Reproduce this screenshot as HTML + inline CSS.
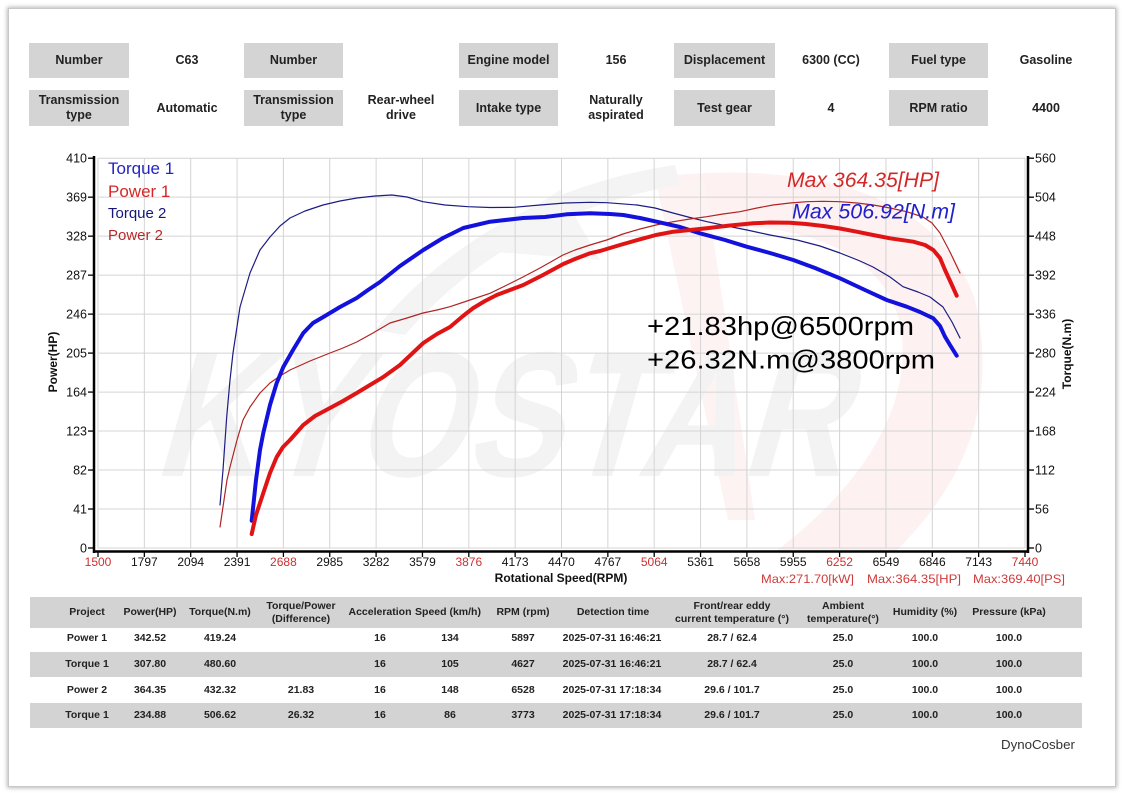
<!DOCTYPE html>
<html>
<head>
<meta charset="utf-8">
<style>
  html,body{margin:0;padding:0;background:#fff;}
  body{width:1122px;height:793px;position:relative;overflow:hidden;font-family:"Liberation Sans",Arial,sans-serif;}
  .card{position:absolute;left:8px;top:8px;width:1106px;height:777px;background:#fff;border:1px solid #c8c8c8;box-shadow:0 0 4px 1px rgba(0,0,0,0.28);}
  .box{position:absolute;background:#d4d4d4;color:#222;font-weight:bold;font-size:12.5px;display:flex;align-items:center;justify-content:center;text-align:center;line-height:15px;}
  .val{position:absolute;color:#222;font-weight:bold;font-size:12.5px;display:flex;align-items:center;justify-content:center;text-align:center;line-height:15px;width:110px;}
  .band{position:absolute;left:30px;width:1052px;background:#d3d3d3;}
  .tc{position:absolute;width:130px;margin-left:-65px;text-align:center;font-weight:bold;font-size:10.5px;color:#222;line-height:13px;}
  svg{position:absolute;left:0;top:0;}
</style>
</head>
<body>
<div class="card"></div>

<!-- header info -->
<div class="box" style="left:29px;top:43px;width:100px;height:35px;">Number</div>
<div class="val" style="left:132px;top:43px;height:35px;">C63</div>
<div class="box" style="left:244px;top:43px;width:99px;height:35px;">Number</div>
<div class="val" style="left:346px;top:43px;height:35px;"></div>
<div class="box" style="left:459px;top:43px;width:99px;height:35px;">Engine model</div>
<div class="val" style="left:561px;top:43px;height:35px;">156</div>
<div class="box" style="left:674px;top:43px;width:101px;height:35px;">Displacement</div>
<div class="val" style="left:776px;top:43px;height:35px;">6300 (CC)</div>
<div class="box" style="left:889px;top:43px;width:99px;height:35px;">Fuel type</div>
<div class="val" style="left:991px;top:43px;height:35px;">Gasoline</div>

<div class="box" style="left:29px;top:90px;width:100px;height:36px;">Transmission<br>type</div>
<div class="val" style="left:132px;top:90px;height:36px;">Automatic</div>
<div class="box" style="left:244px;top:90px;width:99px;height:36px;">Transmission<br>type</div>
<div class="val" style="left:346px;top:90px;height:36px;">Rear-wheel<br>drive</div>
<div class="box" style="left:459px;top:90px;width:99px;height:36px;">Intake type</div>
<div class="val" style="left:561px;top:90px;height:36px;">Naturally<br>aspirated</div>
<div class="box" style="left:674px;top:90px;width:101px;height:36px;">Test gear</div>
<div class="val" style="left:776px;top:90px;height:36px;">4</div>
<div class="box" style="left:889px;top:90px;width:99px;height:36px;">RPM ratio</div>
<div class="val" style="left:991px;top:90px;height:36px;">4400</div>

<!-- bottom table bands -->
<div class="band" style="top:597px;height:31px;"></div>
<div class="band" style="top:652px;height:25px;"></div>
<div class="band" style="top:703px;height:25px;"></div>

<!-- header row -->
<div class="tc" style="left:87px;top:606px;">Project</div>
<div class="tc" style="left:150px;top:606px;">Power(HP)</div>
<div class="tc" style="left:220px;top:606px;">Torque(N.m)</div>
<div class="tc" style="left:301px;top:600px;">Torque/Power<br>(Difference)</div>
<div class="tc" style="left:380px;top:606px;">Acceleration</div>
<div class="tc" style="left:448px;top:606px;">Speed (km/h)</div>
<div class="tc" style="left:523px;top:606px;">RPM (rpm)</div>
<div class="tc" style="left:613px;top:606px;">Detection time</div>
<div class="tc" style="left:732px;top:600px;">Front/rear eddy<br>current temperature (°)</div>
<div class="tc" style="left:843px;top:600px;">Ambient<br>temperature(°)</div>
<div class="tc" style="left:925px;top:606px;">Humidity (%)</div>
<div class="tc" style="left:1009px;top:606px;">Pressure (kPa)</div>

<!-- row 1 -->
<div class="tc" style="left:87px;top:632px;">Power 1</div>
<div class="tc" style="left:150px;top:632px;">342.52</div>
<div class="tc" style="left:220px;top:632px;">419.24</div>
<div class="tc" style="left:380px;top:632px;">16</div>
<div class="tc" style="left:450px;top:632px;">134</div>
<div class="tc" style="left:523px;top:632px;">5897</div>
<div class="tc" style="left:612px;top:632px;">2025-07-31 16:46:21</div>
<div class="tc" style="left:732px;top:632px;">28.7 / 62.4</div>
<div class="tc" style="left:843px;top:632px;">25.0</div>
<div class="tc" style="left:925px;top:632px;">100.0</div>
<div class="tc" style="left:1009px;top:632px;">100.0</div>

<!-- row 2 -->
<div class="tc" style="left:87px;top:658px;">Torque 1</div>
<div class="tc" style="left:150px;top:658px;">307.80</div>
<div class="tc" style="left:220px;top:658px;">480.60</div>
<div class="tc" style="left:380px;top:658px;">16</div>
<div class="tc" style="left:450px;top:658px;">105</div>
<div class="tc" style="left:523px;top:658px;">4627</div>
<div class="tc" style="left:612px;top:658px;">2025-07-31 16:46:21</div>
<div class="tc" style="left:732px;top:658px;">28.7 / 62.4</div>
<div class="tc" style="left:843px;top:658px;">25.0</div>
<div class="tc" style="left:925px;top:658px;">100.0</div>
<div class="tc" style="left:1009px;top:658px;">100.0</div>

<!-- row 3 -->
<div class="tc" style="left:87px;top:684px;">Power 2</div>
<div class="tc" style="left:150px;top:684px;">364.35</div>
<div class="tc" style="left:220px;top:684px;">432.32</div>
<div class="tc" style="left:301px;top:684px;">21.83</div>
<div class="tc" style="left:380px;top:684px;">16</div>
<div class="tc" style="left:450px;top:684px;">148</div>
<div class="tc" style="left:523px;top:684px;">6528</div>
<div class="tc" style="left:612px;top:684px;">2025-07-31 17:18:34</div>
<div class="tc" style="left:732px;top:684px;">29.6 / 101.7</div>
<div class="tc" style="left:843px;top:684px;">25.0</div>
<div class="tc" style="left:925px;top:684px;">100.0</div>
<div class="tc" style="left:1009px;top:684px;">100.0</div>

<!-- row 4 -->
<div class="tc" style="left:87px;top:709px;">Torque 1</div>
<div class="tc" style="left:150px;top:709px;">234.88</div>
<div class="tc" style="left:220px;top:709px;">506.62</div>
<div class="tc" style="left:301px;top:709px;">26.32</div>
<div class="tc" style="left:380px;top:709px;">16</div>
<div class="tc" style="left:450px;top:709px;">86</div>
<div class="tc" style="left:523px;top:709px;">3773</div>
<div class="tc" style="left:612px;top:709px;">2025-07-31 17:18:34</div>
<div class="tc" style="left:732px;top:709px;">29.6 / 101.7</div>
<div class="tc" style="left:843px;top:709px;">25.0</div>
<div class="tc" style="left:925px;top:709px;">100.0</div>
<div class="tc" style="left:1009px;top:709px;">100.0</div>

<svg width="1122" height="793" viewBox="0 0 1122 793" xmlns="http://www.w3.org/2000/svg" font-family="Liberation Sans, Arial, sans-serif">
  <!-- watermark -->
  <path d="M655,177 C790,162 935,182 975,300 C998,400 968,480 895,552 L775,552 C850,495 910,420 902,335 C892,255 805,220 705,228 Z" fill="#fdf1f1"/>
  <path d="M655,177 L705,182 L755,520 L728,520 Z" fill="#fdf3f3"/>
  <path d="M375,330 C440,250 540,185 675,165 L680,185 C560,205 470,260 405,335 Z" fill="#f4f4f4"/>
  <path d="M470,250 L560,190 L600,260 Z" fill="#f5f5f5"/>
  <text x="0" y="0" transform="translate(152,476) skewX(-16)" font-size="178" font-weight="bold" fill="#f3f3f3" textLength="690" lengthAdjust="spacingAndGlyphs">KYOSTAR</text>

  <!-- grid -->
  <g stroke="#d4d4d4" stroke-width="1">
    <line x1="98" y1="158" x2="98" y2="548"/>
    <line x1="144.35" y1="158" x2="144.35" y2="548"/>
    <line x1="190.7" y1="158" x2="190.7" y2="548"/>
    <line x1="237.05" y1="158" x2="237.05" y2="548"/>
    <line x1="283.4" y1="158" x2="283.4" y2="548"/>
    <line x1="329.75" y1="158" x2="329.75" y2="548"/>
    <line x1="376.1" y1="158" x2="376.1" y2="548"/>
    <line x1="422.45" y1="158" x2="422.45" y2="548"/>
    <line x1="468.8" y1="158" x2="468.8" y2="548"/>
    <line x1="515.15" y1="158" x2="515.15" y2="548"/>
    <line x1="561.5" y1="158" x2="561.5" y2="548"/>
    <line x1="607.85" y1="158" x2="607.85" y2="548"/>
    <line x1="654.2" y1="158" x2="654.2" y2="548"/>
    <line x1="700.55" y1="158" x2="700.55" y2="548"/>
    <line x1="746.9" y1="158" x2="746.9" y2="548"/>
    <line x1="793.25" y1="158" x2="793.25" y2="548"/>
    <line x1="839.6" y1="158" x2="839.6" y2="548"/>
    <line x1="885.95" y1="158" x2="885.95" y2="548"/>
    <line x1="932.3" y1="158" x2="932.3" y2="548"/>
    <line x1="978.65" y1="158" x2="978.65" y2="548"/>
    <line x1="1025" y1="158" x2="1025" y2="548"/>
    <line x1="98" y1="548" x2="1025" y2="548"/>
    <line x1="98" y1="509.02" x2="1025" y2="509.02"/>
    <line x1="98" y1="470.04" x2="1025" y2="470.04"/>
    <line x1="98" y1="431.06" x2="1025" y2="431.06"/>
    <line x1="98" y1="392.08" x2="1025" y2="392.08"/>
    <line x1="98" y1="353.1" x2="1025" y2="353.1"/>
    <line x1="98" y1="314.12" x2="1025" y2="314.12"/>
    <line x1="98" y1="275.14" x2="1025" y2="275.14"/>
    <line x1="98" y1="236.16" x2="1025" y2="236.16"/>
    <line x1="98" y1="197.18" x2="1025" y2="197.18"/>
    <line x1="98" y1="158.2" x2="1025" y2="158.2"/>
  </g>

  <!-- axes -->
  <g stroke="#000" stroke-width="2.5" fill="none">
    <line x1="94" y1="156" x2="94" y2="553"/>
    <line x1="93" y1="551.5" x2="1029" y2="551.5"/>
    <line x1="1028" y1="156" x2="1028" y2="553"/>
  </g>
  <g stroke="#000" stroke-width="1.3">
    <line x1="88" y1="548" x2="94" y2="548"/><line x1="88" y1="509.02" x2="94" y2="509.02"/><line x1="88" y1="470.04" x2="94" y2="470.04"/><line x1="88" y1="431.06" x2="94" y2="431.06"/><line x1="88" y1="392.08" x2="94" y2="392.08"/><line x1="88" y1="353.1" x2="94" y2="353.1"/><line x1="88" y1="314.12" x2="94" y2="314.12"/><line x1="88" y1="275.14" x2="94" y2="275.14"/><line x1="88" y1="236.16" x2="94" y2="236.16"/><line x1="88" y1="197.18" x2="94" y2="197.18"/><line x1="88" y1="158.2" x2="94" y2="158.2"/>
    <line x1="1028" y1="548" x2="1034" y2="548"/><line x1="1028" y1="509.02" x2="1034" y2="509.02"/><line x1="1028" y1="470.04" x2="1034" y2="470.04"/><line x1="1028" y1="431.06" x2="1034" y2="431.06"/><line x1="1028" y1="392.08" x2="1034" y2="392.08"/><line x1="1028" y1="353.1" x2="1034" y2="353.1"/><line x1="1028" y1="314.12" x2="1034" y2="314.12"/><line x1="1028" y1="275.14" x2="1034" y2="275.14"/><line x1="1028" y1="236.16" x2="1034" y2="236.16"/><line x1="1028" y1="197.18" x2="1034" y2="197.18"/><line x1="1028" y1="158.2" x2="1034" y2="158.2"/>
    <line x1="98" y1="551" x2="98" y2="557"/><line x1="144.35" y1="551" x2="144.35" y2="557"/><line x1="190.7" y1="551" x2="190.7" y2="557"/><line x1="237.05" y1="551" x2="237.05" y2="557"/><line x1="283.4" y1="551" x2="283.4" y2="557"/><line x1="329.75" y1="551" x2="329.75" y2="557"/><line x1="376.1" y1="551" x2="376.1" y2="557"/><line x1="422.45" y1="551" x2="422.45" y2="557"/><line x1="468.8" y1="551" x2="468.8" y2="557"/><line x1="515.15" y1="551" x2="515.15" y2="557"/><line x1="561.5" y1="551" x2="561.5" y2="557"/><line x1="607.85" y1="551" x2="607.85" y2="557"/><line x1="654.2" y1="551" x2="654.2" y2="557"/><line x1="700.55" y1="551" x2="700.55" y2="557"/><line x1="746.9" y1="551" x2="746.9" y2="557"/><line x1="793.25" y1="551" x2="793.25" y2="557"/><line x1="839.6" y1="551" x2="839.6" y2="557"/><line x1="885.95" y1="551" x2="885.95" y2="557"/><line x1="932.3" y1="551" x2="932.3" y2="557"/><line x1="978.65" y1="551" x2="978.65" y2="557"/><line x1="1025" y1="551" x2="1025" y2="557"/>
  </g>

  <!-- left labels -->
  <g font-size="12.5" fill="#111" text-anchor="end">
    <text x="87" y="552.5">0</text><text x="87" y="513.5">41</text><text x="87" y="474.5">82</text><text x="87" y="435.5">123</text><text x="87" y="396.5">164</text><text x="87" y="357.5">205</text><text x="87" y="318.5">246</text><text x="87" y="279.5">287</text><text x="87" y="240.5">328</text><text x="87" y="201.5">369</text><text x="87" y="162.5">410</text>
  </g>
  <g font-size="12.5" fill="#111" text-anchor="start">
    <text x="1035" y="552.5">0</text><text x="1035" y="513.5">56</text><text x="1035" y="474.5">112</text><text x="1035" y="435.5">168</text><text x="1035" y="396.5">224</text><text x="1035" y="357.5">280</text><text x="1035" y="318.5">336</text><text x="1035" y="279.5">392</text><text x="1035" y="240.5">448</text><text x="1035" y="201.5">504</text><text x="1035" y="162.5">560</text>
  </g>
  <g font-size="12" fill="#111" text-anchor="middle">
    <text x="98" y="566" fill="#d03030">1500</text><text x="144.35" y="566">1797</text><text x="190.7" y="566">2094</text><text x="237.05" y="566">2391</text><text x="283.4" y="566" fill="#d03030">2688</text><text x="329.75" y="566">2985</text><text x="376.1" y="566">3282</text><text x="422.45" y="566">3579</text><text x="468.8" y="566" fill="#d03030">3876</text><text x="515.15" y="566">4173</text><text x="561.5" y="566">4470</text><text x="607.85" y="566">4767</text><text x="654.2" y="566" fill="#d03030">5064</text><text x="700.55" y="566">5361</text><text x="746.9" y="566">5658</text><text x="793.25" y="566">5955</text><text x="839.6" y="566" fill="#d03030">6252</text><text x="885.95" y="566">6549</text><text x="932.3" y="566">6846</text><text x="978.65" y="566">7143</text><text x="1025" y="566" fill="#d03030">7440</text>
  </g>

  <!-- axis titles -->
  <text transform="translate(57,362) rotate(-90)" font-size="12" font-weight="bold" fill="#111" text-anchor="middle">Power(HP)</text>
  <text transform="translate(1071,354) rotate(-90)" font-size="12" font-weight="bold" fill="#111" text-anchor="middle">Torque(N.m)</text>
  <text x="561" y="582" font-size="12" font-weight="bold" fill="#111" text-anchor="middle">Rotational Speed(RPM)</text>

  <g font-size="12" fill="#d03a3a">
    <text x="761" y="583" textLength="93" lengthAdjust="spacingAndGlyphs">Max:271.70[kW]</text>
    <text x="867" y="583" textLength="94" lengthAdjust="spacingAndGlyphs">Max:364.35[HP]</text>
    <text x="973" y="583" textLength="92" lengthAdjust="spacingAndGlyphs">Max:369.40[PS]</text>
  </g>

  <!-- curves -->
  <g fill="none" stroke-linejoin="round" stroke-linecap="round">
    <polyline stroke="#1c1c84" stroke-width="1.2" points="220,505 223,470 226.7,417 230,380 233,353 240,307 250,273 260,250 270,237 280,226 290,218 305,211 323,205 340,201 357,198 375,196 392,195 407,197 423,201.7 445,205 468,206.7 490,207.5 514,207.3 540,205 565,203 590,202.3 607,202.7 637,205 655,208 673,213 690,217.5 707,221.7 727,226 747,230 770,235 797,240 820,246 840,253 860,261 873,267 890,277 903,286.7 918,292 930,297 943,307 952,322 960,338"/>
    <polyline stroke="#b02424" stroke-width="1.2" points="220,527 224,500 227,480 230,467 237,440 243,420 250,407 260,393 270,383 280,376 290,370 310,361 330,353 343,348 356.7,342 373,333 390,323 407,318 423,313 437,310 450,306.7 470,300 490,293.3 505,286 523,277 540,268 563,255 575,250 590,245 606.7,240 623,234 640,229 656,225 673.3,221.7 690,219 706.7,216.7 723,214 740,211.7 757,208 773,205 790,203 806.7,201.7 823,201.3 840,201.7 857,203 873.3,205 890,208 906.7,211.7 923,217 932,223 940,233 950,252 960,273"/>
    <polyline stroke="#1212dc" stroke-width="4" points="251.7,520.7 256,480 260,450 263.3,433 270,405 276.7,383 283.3,367 293,350 303.3,333 313,323 323.3,317 340,307 356.7,298 368,290 380,282 400,266 423.3,250 443,238 463.3,228 490,221.7 523,218 545,217 566.7,214.3 590,213.3 610,214 623.3,215 640,218 656.7,221.7 680,227 700,233.3 725,240 746.7,246.7 770,253 793.3,260 815,268 840,278.3 865,290 886.7,300 906.7,306.7 920,312 933.3,318.3 940,326 945,336.7 950,345 956.7,355.7"/>
    <polyline stroke="#e01414" stroke-width="4" points="251.7,534 256,515 263.3,493 270,473 276.7,457 283,447 290,440 303.3,425 315,416 330,408 343,401 356.7,393 370,385 383.3,377 400,365 423.3,343 437,334 450,327 463,316 473.3,308 485,301 496.7,295 510,290 523.3,285 543,275 563.3,264 575,259 590,253.3 600,251 620,245 640,239.3 656,235 673.3,231.7 690,230 706.7,228.3 730,225.5 753.3,223.3 770,222.5 790,222.7 806,224 823.3,226 840,228.5 856.7,231.7 873,235 890,238.3 913.3,241.7 925,245 933.3,250 940,258 945,270 951,283 956.7,295.7"/>
  </g>

  <!-- legend -->
  <text x="108" y="174" font-size="17" fill="#2424c4">Torque 1</text>
  <text x="108" y="197" font-size="17" fill="#d42828">Power 1</text>
  <text x="108" y="218" font-size="15" fill="#16167e">Torque 2</text>
  <text x="108" y="240" font-size="15" fill="#b82a2a">Power 2</text>

  <!-- annotations -->
  <text x="787" y="187" font-size="21" font-style="italic" fill="#d42828" textLength="152" lengthAdjust="spacingAndGlyphs">Max 364.35[HP]</text>
  <text x="792" y="218.5" font-size="21" font-style="italic" fill="#2020cc" textLength="163" lengthAdjust="spacingAndGlyphs">Max 506.92[N.m]</text>
  <text x="647" y="335" font-size="26" fill="#000" textLength="267" lengthAdjust="spacingAndGlyphs">+21.83hp@6500rpm</text>
  <text x="647" y="368.5" font-size="26" fill="#000" textLength="288" lengthAdjust="spacingAndGlyphs">+26.32N.m@3800rpm</text>

  <text x="1001" y="749" font-size="13.3" fill="#333">DynoCosber</text>
</svg>
</body>
</html>
